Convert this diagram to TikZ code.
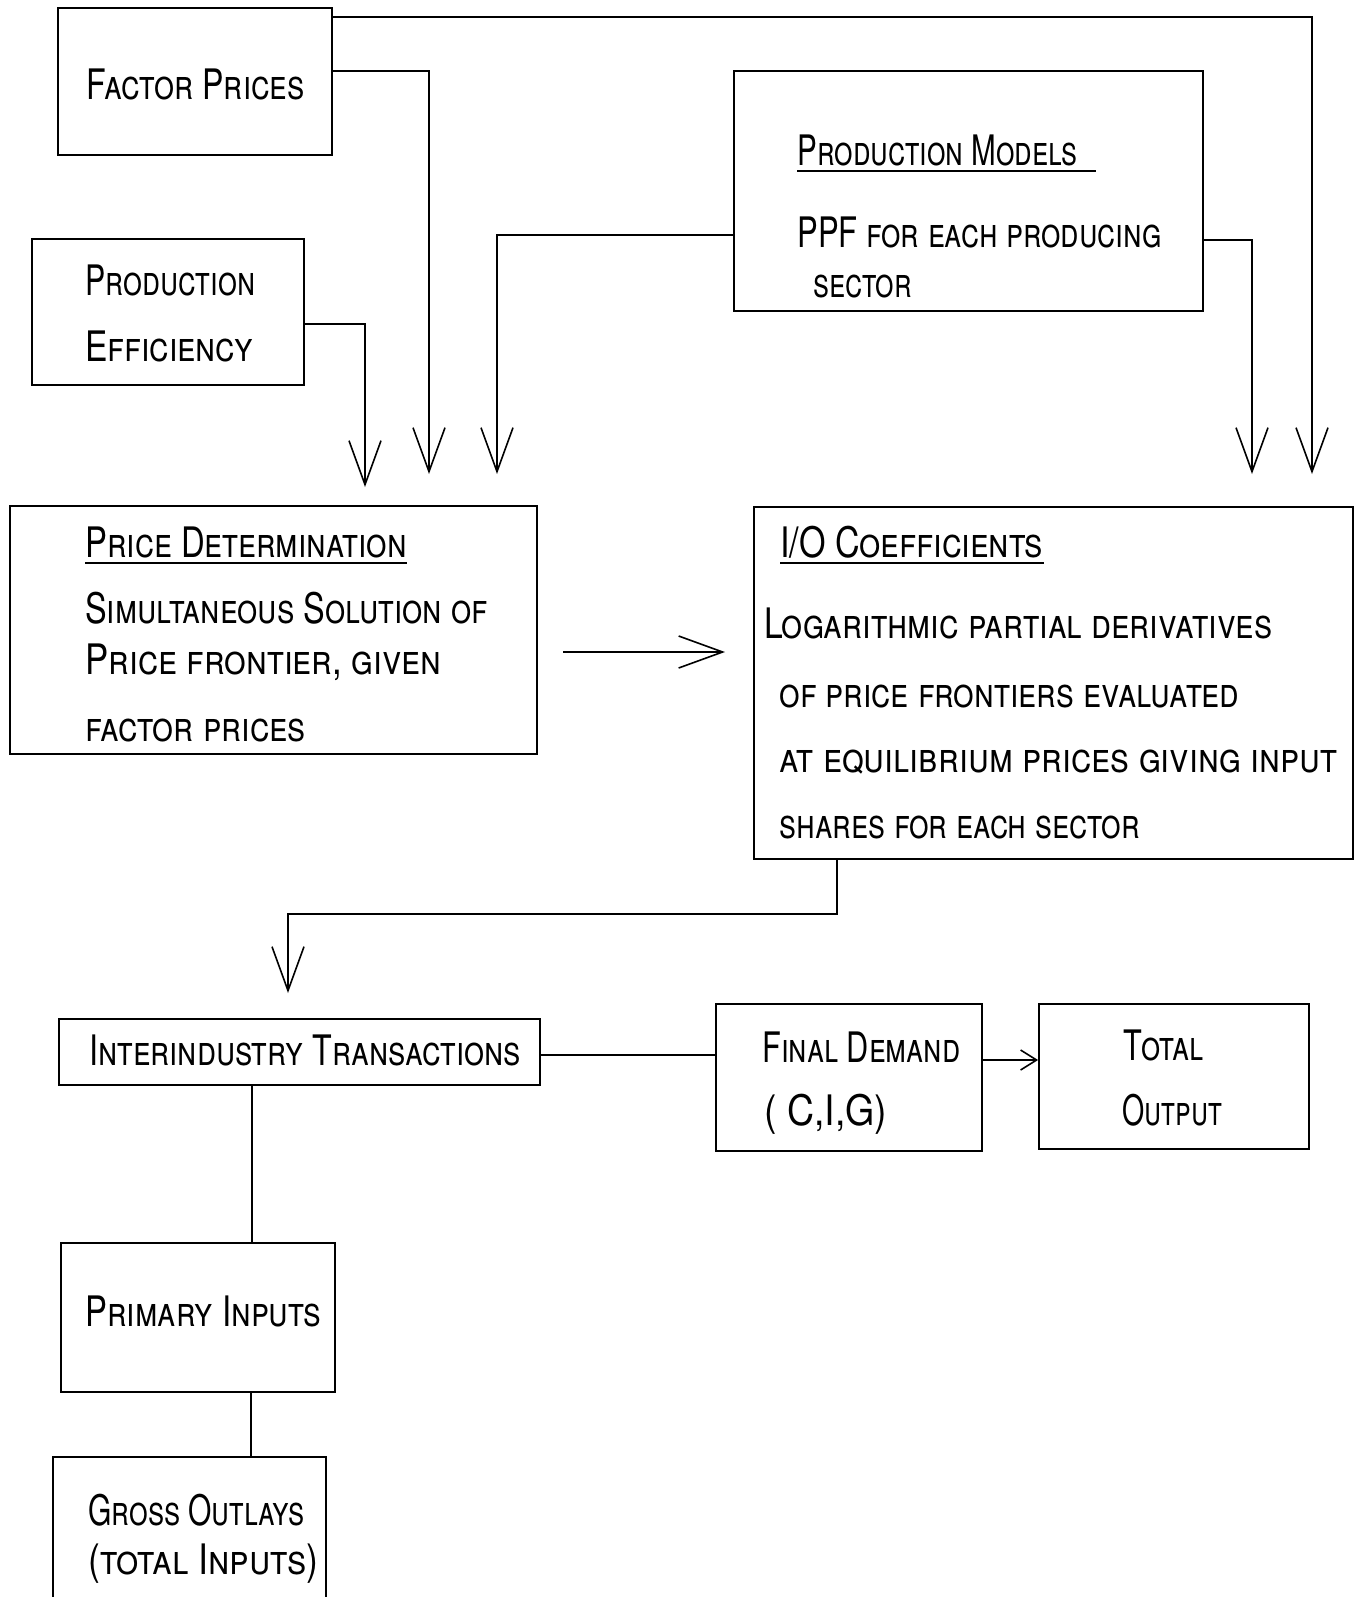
\documentclass[tikz,border=0pt]{standalone}
\usepackage{fontspec}
\usepackage{graphicx}
\setmainfont{TeX Gyre Heros}[FakeStretch=0.85]
\usetikzlibrary{arrows.meta,fit}
\newcommand{\hsc}[2]{\scalebox{#1}[1]{#2}}
\begin{document}
\begin{tikzpicture}[x=0.5pt,y=-0.5pt,
  box/.style={draw, line width=0.9pt, inner sep=0pt},
  lbl/.style={anchor=base west, inner sep=0pt, font=\fontsize{21}{25}\selectfont\scshape},
  conn/.style={line width=0.8pt},
  arr/.style={conn, -{Straight Barb[length=22pt,width=16pt]}},
  sarr/.style={conn, -{Straight Barb[length=8pt,width=10pt]}},
  uline/.style={line width=0.8pt}]
\useasboundingbox (0,0) rectangle (1357,1597);
\fill[white] (0,0) rectangle (1357,1597);
% boxes
\node[box, fit={(58,8) (332,155)}] (fp) {};
\node[box, fit={(32,239) (304,385)}] (pe) {};
\node[box, fit={(734,71) (1203,311)}] (pm) {};
\node[box, fit={(10,506) (537,754)}] (pd) {};
\node[box, fit={(754,507) (1353,859)}] (io) {};
\node[box, fit={(59,1019) (540,1085)}] (ii) {};
\node[box, fit={(716,1004) (982,1151)}] (fd) {};
\node[box, fit={(1039,1004) (1309,1149)}] (to) {};
\node[box, fit={(61,1243) (335,1392)}] (pi) {};
\node[box, fit={(53,1457) (326,1640)}] (go) {};
% texts
\node[lbl] (fpt) at (86,99) {\hsc{0.90}{Factor Prices}};
\node[lbl] (pet1) at (85,295) {\hsc{0.85}{Production}};
\node[lbl] (pet2) at (85,361) {\hsc{0.94}{Efficiency}};
\node[lbl] (pmt) at (797,165) {\hsc{0.83}{Production Models}};
\node[lbl] (pmt2) at (797,247) {\hsc{0.87}{PPF for each producing}};
\node[lbl] (pmt3) at (813,297) {\hsc{0.83}{sector}};
\node[lbl] (pdt) at (85,557) {\hsc{0.92}{Price Determination}};
\node[lbl] (pdt2) at (85,623) {\hsc{0.907}{Simultaneous Solution of}};
\node[lbl] (pdt3) at (85,674) {\hsc{0.975}{Price frontier, given}};
\node[lbl] (pdt4) at (85,741) {\hsc{0.94}{factor prices}};
\node[lbl] (iot) at (780,557) {\hsc{0.955}{I/O Coefficients}};
\node[lbl] (iot2) at (764,638) {\hsc{0.945}{Logarithmic partial derivatives}};
\node[lbl] (iot3) at (779,707) {\hsc{0.926}{of price frontiers evaluated}};
\node[lbl] (iot4) at (779,772) {\hsc{0.98}{at equilibrium prices giving input}};
\node[lbl] (iot5) at (779,838) {\hsc{0.88}{shares for each sector}};
\node[lbl] (iit) at (89,1065) {\hsc{0.90}{Interindustry Transactions}};
\node[lbl] (fdt) at (762,1062) {\hsc{0.86}{Final Demand}};
\node[lbl] (fdt2) at (764,1125) {\hsc{1.05}{( C,I,G)}};
\node[lbl] (tot) at (1123,1060) {\hsc{0.86}{Total}};
\node[lbl] (tot2) at (1122,1125) {\hsc{0.80}{Output}};
\node[lbl] (pit) at (85,1326) {\hsc{0.92}{Primary Inputs}};
\node[lbl] (got) at (88,1525) {\hsc{0.84}{Gross Outlays}};
\node[lbl] (got2) at (88,1574) {\hsc{1.0}{(total Inputs)}};
% underlines
\draw[uline] ([yshift=-3pt]pmt.base west) -- ([yshift=-3pt,xshift=9pt]pmt.base east);
\draw[uline] ([yshift=-3pt]pdt.base west) -- ([yshift=-3pt]pdt.base east);
\draw[uline] ([yshift=-3pt]iot.base west) -- ([yshift=-3pt]iot.base east);
% arrow tips / coordinates
\coordinate (tA) at (365,487);
\coordinate (tB) at (429,474);
\coordinate (tC) at (497,474);
\coordinate (tD) at (1252,474);
\coordinate (tE) at (1312,474);
\coordinate (hs) at (563,652);
\coordinate (he) at (725,652);
\coordinate (tF) at (288,993);
% connectors
\draw[arr] (fp.east |- 0,17) -| (tE);
\draw[arr] (fp.east |- 0,71) -| (tB);
\draw[arr] (pe.east |- 0,324) -| (tA);
\draw[arr] (pm.west |- 0,235) -| (tC);
\draw[arr] (pm.east |- 0,240) -| (tD);
\draw[arr] (hs) -- (he);
\draw[arr] (io.south -| 837,0) -- (837,914) -| (tF);
\draw[conn] (ii.east |- 0,1055) -- (fd.west |- 0,1055);
\draw[sarr] (fd.east |- 0,1060) -- (to.west |- 0,1060);
\draw[conn] (ii.south -| 252,0) -- (pi.north -| 252,0);
\draw[conn] (pi.south -| 251,0) -- (go.north -| 251,0);
\end{tikzpicture}
\end{document}
